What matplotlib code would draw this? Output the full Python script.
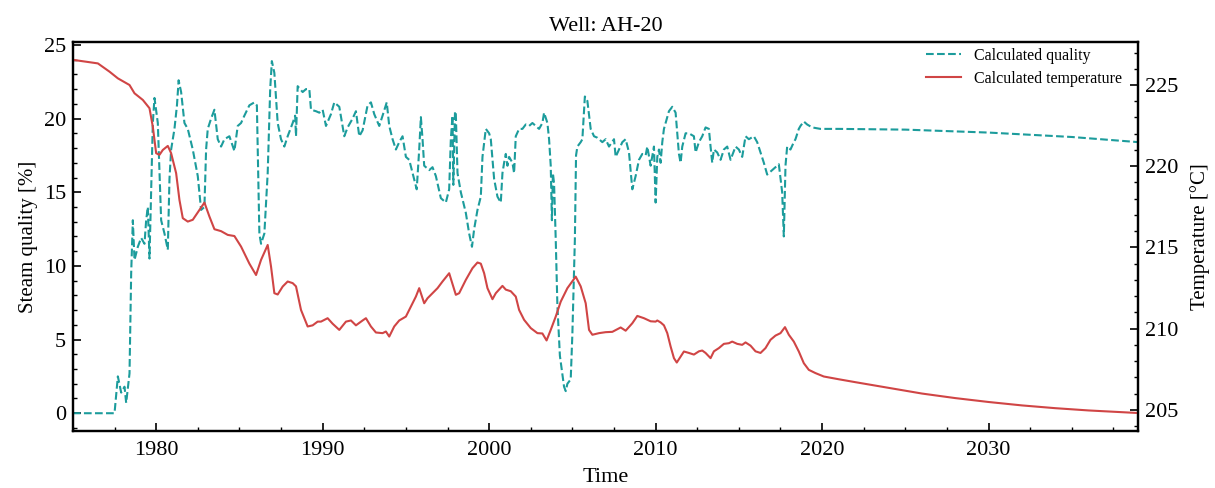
import matplotlib
matplotlib.use("Agg")
import matplotlib.pyplot as plt
from matplotlib.ticker import MultipleLocator

plt.rcParams['font.family'] = ['Liberation Serif', 'DejaVu Serif']
plt.rcParams['mathtext.fontset'] = 'stix'

# 蒸汽干度（%）随时间变化
q_years = [1975.0, 1977.5, 1977.7, 1977.9, 1978.1, 1978.2, 1978.4, 1978.5, 1978.6, 1978.7,
           1978.9, 1979.1, 1979.3, 1979.4, 1979.5, 1979.6, 1979.8, 1979.9, 1980.1, 1980.2,
           1980.3, 1980.5, 1980.7, 1980.8, 1980.9, 1981.1, 1981.25, 1981.35, 1981.5, 1981.7,
           1981.9, 1982.2, 1982.5, 1982.7, 1982.9, 1983.0, 1983.1, 1983.3, 1983.5, 1983.7,
           1983.9, 1984.1, 1984.4, 1984.7, 1984.9, 1985.1, 1985.3, 1985.6, 1985.9, 1986.05,
           1986.2, 1986.3, 1986.5, 1986.7, 1986.85, 1986.95, 1987.1, 1987.3, 1987.5, 1987.7,
           1987.9, 1988.2, 1988.35, 1988.4, 1988.5, 1988.8, 1989.0, 1989.2, 1989.3, 1989.6,
           1989.8, 1990.0, 1990.2, 1990.5, 1990.7, 1991.0, 1991.3, 1991.5, 1991.8, 1992.0,
           1992.2, 1992.4, 1992.7, 1992.9, 1993.1, 1993.4, 1993.6, 1993.85, 1994.0, 1994.2,
           1994.4, 1994.6, 1994.8, 1995.0, 1995.2, 1995.4, 1995.65, 1995.8, 1995.9, 1996.0,
           1996.1, 1996.4, 1996.6, 1996.8, 1997.1, 1997.4, 1997.6, 1997.7, 1997.8, 1997.85,
           1997.95, 1998.0, 1998.1, 1998.3, 1998.6, 1998.8, 1998.97, 1999.1, 1999.3, 1999.5,
           1999.6, 1999.8, 2000.0, 2000.1, 2000.3, 2000.5, 2000.7, 2000.8, 2000.9, 2001.0,
           2001.1, 2001.2, 2001.4, 2001.5, 2001.6, 2001.8, 2002.0, 2002.2, 2002.4, 2002.6,
           2002.8, 2003.0, 2003.2, 2003.3, 2003.5, 2003.6, 2003.7, 2003.77, 2003.83, 2003.9,
           2004.0, 2004.1, 2004.25, 2004.5, 2004.6, 2004.7, 2004.9, 2005.0, 2005.15, 2005.22,
           2005.3, 2005.5, 2005.6, 2005.75, 2005.9, 2006.1, 2006.3, 2006.5, 2006.8, 2007.0,
           2007.2, 2007.5, 2007.6, 2007.8, 2008.0, 2008.2, 2008.4, 2008.6, 2008.8, 2009.0,
           2009.2, 2009.4, 2009.5, 2009.7, 2009.9, 2010.0, 2010.1, 2010.2, 2010.3, 2010.4,
           2010.5, 2010.8, 2011.0, 2011.2, 2011.3, 2011.4, 2011.5, 2011.6, 2011.8, 2012.0,
           2012.3, 2012.4, 2012.6, 2012.8, 2013.0, 2013.2, 2013.3, 2013.4, 2013.5, 2013.7,
           2013.9, 2014.1, 2014.3, 2014.5, 2014.8, 2015.0, 2015.2, 2015.4, 2015.6, 2015.9,
           2016.1, 2016.3, 2016.5, 2016.7, 2016.9, 2017.2, 2017.4, 2017.6, 2017.7, 2017.8,
           2017.9, 2018.1, 2018.3, 2018.4, 2018.6, 2018.7, 2018.9, 2019.1, 2019.4, 2019.9,
           2021.0, 2025.0, 2030.0, 2035.0, 2039.0]
quality = [0.0, 0.0, 2.5, 1.4, 1.8, 0.7, 2.7, 9.5, 13.1, 10.4,
           11.3, 11.9, 11.5, 13.1, 14.0, 10.5, 19.7, 21.4, 19.7, 16.3,
           13.1, 12.2, 11.1, 15.9, 17.9, 19.3, 20.9, 22.6, 21.8, 19.7,
           19.3, 17.9, 16.1, 13.8, 14.0, 17.9, 19.3, 20.0, 20.6, 18.6,
           18.1, 18.6, 18.8, 17.8, 19.5, 19.7, 20.2, 20.9, 21.1, 20.9,
           12.2, 11.5, 12.2, 16.3, 22.0, 23.9, 23.1, 19.7, 18.6, 18.1,
           18.8, 19.7, 20.2, 18.8, 22.2, 21.8, 22.0, 22.0, 20.6, 20.5,
           20.4, 20.6, 19.5, 20.3, 21.1, 20.8, 18.8, 19.4, 20.0, 20.5,
           18.8, 19.2, 20.9, 21.1, 20.3, 19.5, 20.2, 21.1, 19.5, 18.6,
           17.9, 18.4, 18.8, 17.4, 17.2, 16.3, 15.2, 17.9, 20.1, 18.6,
           16.8, 16.5, 16.7, 16.1, 14.6, 14.3, 15.2, 18.6, 20.2, 15.5,
           20.5, 20.3, 16.3, 15.0, 13.6, 12.2, 11.3, 12.5, 13.8, 14.7,
           17.4, 19.3, 19.0, 18.6, 15.9, 14.7, 14.3, 16.3, 17.0, 17.6,
           16.8, 17.4, 17.0, 16.3, 18.8, 19.3, 19.3, 19.6, 19.5, 19.7,
           19.5, 19.3, 19.7, 20.4, 19.7, 18.6, 16.8, 13.1, 16.3, 15.6,
           11.8, 7.3, 3.9, 1.8, 1.5, 2.0, 2.3, 5.4, 11.8, 17.5,
           18.1, 18.4, 18.6, 21.5, 21.2, 19.3, 18.8, 18.7, 18.4, 18.6,
           18.1, 18.6, 17.4, 17.9, 18.4, 18.6, 17.7, 15.2, 16.1, 17.2,
           17.6, 17.5, 18.1, 16.8, 18.1, 14.3, 17.4, 17.9, 17.0, 18.4,
           19.3, 20.5, 20.8, 20.4, 19.0, 17.6, 17.0, 18.1, 19.0, 19.0,
           18.8, 17.7, 18.4, 18.8, 19.4, 19.3, 18.1, 17.0, 17.9, 17.7,
           17.2, 17.9, 18.1, 17.2, 18.1, 17.9, 17.4, 18.8, 18.6, 18.8,
           18.4, 17.7, 17.0, 16.2, 16.4, 16.7, 16.9, 15.0, 12.0, 16.8,
           18.1, 17.9, 18.4, 18.6, 19.3, 19.5, 19.8, 19.6, 19.4, 19.3,
           19.3, 19.25, 19.05, 18.75, 18.4]

# 计算温度（°C）随时间变化
t_years = [1975.0, 1976.5, 1977.2, 1977.7, 1978.4, 1978.7, 1979.2, 1979.6, 1979.8, 1980.0,
           1980.2, 1980.4, 1980.7, 1980.9, 1981.2, 1981.4, 1981.6, 1981.9, 1982.2, 1982.6,
           1982.9, 1983.2, 1983.5, 1983.9, 1984.3, 1984.7, 1985.1, 1985.6, 1986.0, 1986.3,
           1986.7, 1986.9, 1987.1, 1987.3, 1987.6, 1987.9, 1988.2, 1988.4, 1988.7, 1989.1,
           1989.4, 1989.7, 1989.9, 1990.3, 1990.6, 1991.0, 1991.4, 1991.7, 1992.0, 1992.4,
           1992.6, 1992.9, 1993.2, 1993.6, 1993.8, 1994.0, 1994.3, 1994.6, 1995.0, 1995.3,
           1995.6, 1995.8, 1996.1, 1996.3, 1996.6, 1996.9, 1997.2, 1997.6, 1998.0, 1998.2,
           1998.6, 1999.0, 1999.3, 1999.5, 1999.7, 1999.9, 2000.2, 2000.4, 2000.8, 2001.0,
           2001.3, 2001.6, 2001.8, 2002.1, 2002.5, 2002.9, 2003.2, 2003.45, 2003.7, 2004.0,
           2004.3, 2004.7, 2005.2, 2005.5, 2005.8, 2006.0, 2006.2, 2006.6, 2007.0, 2007.4,
           2007.7, 2007.9, 2008.2, 2008.6, 2008.9, 2009.3, 2009.7, 2010.0, 2010.1, 2010.3,
           2010.5, 2010.7, 2010.9, 2011.1, 2011.27, 2011.5, 2011.7, 2012.0, 2012.3, 2012.6,
           2012.8, 2013.0, 2013.3, 2013.5, 2013.8, 2014.1, 2014.4, 2014.6, 2014.9, 2015.2,
           2015.4, 2015.7, 2016.0, 2016.3, 2016.6, 2016.9, 2017.2, 2017.5, 2017.77, 2018.0,
           2018.3, 2018.6, 2018.9, 2019.2, 2019.6, 2020.1, 2021.0, 2022.0, 2024.0, 2026.0,
           2028.0, 2030.0, 2032.0, 2034.0, 2036.0, 2039.0]
temperature = [226.55, 226.33, 225.82, 225.41, 225.0, 224.49, 224.08, 223.57, 222.43, 220.8,
               220.7, 221.0, 221.25, 220.8, 219.57, 217.92, 216.8, 216.59, 216.7, 217.3,
               217.76, 216.9, 216.12, 216.0, 215.77, 215.7, 215.05, 214.0, 213.3, 214.23,
               215.15, 213.82, 212.18, 212.1, 212.59, 212.9, 212.8, 212.6, 211.15, 210.13,
               210.2, 210.43, 210.43, 210.64, 210.3, 209.92, 210.43, 210.5, 210.2, 210.5,
               210.64, 210.13, 209.76, 209.72, 209.82, 209.51, 210.13, 210.5, 210.74, 211.36,
               211.97, 212.49, 211.56, 211.87, 212.18, 212.49, 212.9, 213.41, 212.08, 212.18,
               213.0, 213.72, 214.07, 214.0, 213.41, 212.49, 211.81, 212.18, 212.63, 212.4,
               212.3, 211.97, 211.15, 210.54, 210.03, 209.72, 209.7, 209.27, 209.92, 210.74,
               211.66, 212.49, 213.2, 212.6, 211.56, 209.92, 209.62, 209.72, 209.78, 209.8,
               209.96, 210.07, 209.87, 210.33, 210.78, 210.64, 210.45, 210.43, 210.5, 210.38,
               210.2, 209.72, 208.9, 208.18, 207.91, 208.27, 208.59, 208.5, 208.4, 208.6,
               208.65, 208.5, 208.18, 208.6, 208.8, 209.06, 209.1, 209.2, 209.06, 209.0,
               209.15, 208.95, 208.6, 208.5, 208.8, 209.31, 209.57, 209.72, 210.09, 209.62,
               209.2, 208.59, 207.87, 207.46, 207.26, 207.05, 206.88, 206.7, 206.35, 206.0,
               205.72, 205.48, 205.27, 205.1, 204.96, 204.8]

x_ticks = [1980, 1990, 2000, 2010, 2020, 2030]

teal = '#1c9c9c'
red = '#d04545'

fig = plt.figure(figsize=(12.15, 4.88), dpi=100)
ax1 = fig.add_axes([0.060, 0.117, 0.877, 0.797])
ax2 = ax1.twinx()

l1, = ax1.plot(q_years, quality, color=teal, ls='--', lw=1.5, label='Calculated quality')
l2, = ax2.plot(t_years, temperature, color=red, ls='-', lw=1.5, label='Calculated temperature')

ax1.set_xlim(1975, 2039)
ax1.set_ylim(-1.2, 25.2)
ax2.set_ylim(203.7, 227.65)

ax1.set_xticks(x_ticks)
ax1.xaxis.set_minor_locator(MultipleLocator(2.5))
ax1.yaxis.set_major_locator(MultipleLocator(5))
ax1.yaxis.set_minor_locator(MultipleLocator(1))
ax2.yaxis.set_major_locator(MultipleLocator(5))
ax2.yaxis.set_minor_locator(MultipleLocator(1))

ax1.tick_params(axis='both', which='both', direction='in', labelsize=16, top=False, right=False)
ax1.tick_params(axis='x', which='major', pad=7)
ax1.tick_params(axis='y', which='major', pad=5)
ax1.tick_params(which='major', length=6, width=1.2)
ax1.tick_params(which='minor', length=3, width=1.0)
ax2.tick_params(axis='y', which='both', direction='in', labelsize=16, pad=5)
ax2.tick_params(which='major', length=6, width=1.2)
ax2.tick_params(which='minor', length=3, width=1.0)

for ax in (ax1, ax2):
    for sp in ax.spines.values():
        sp.set_linewidth(1.6)

ax1.set_xlabel('Time', fontsize=16, labelpad=6)
ax1.set_ylabel('Steam quality [%]', fontsize=15, labelpad=4)
ax2.set_ylabel('Temperature [°C]', fontsize=15, labelpad=8)
ax1.set_title('Well: AH-20', fontsize=16, pad=8)

ax2.legend(handles=[l1, l2], loc='upper right', bbox_to_anchor=(0.99, 1.0), frameon=False,
           fontsize=11.5, handlelength=2.2, borderaxespad=0.0, borderpad=0.35,
           labelspacing=0.45)

fig.savefig('out.png', dpi=100)
